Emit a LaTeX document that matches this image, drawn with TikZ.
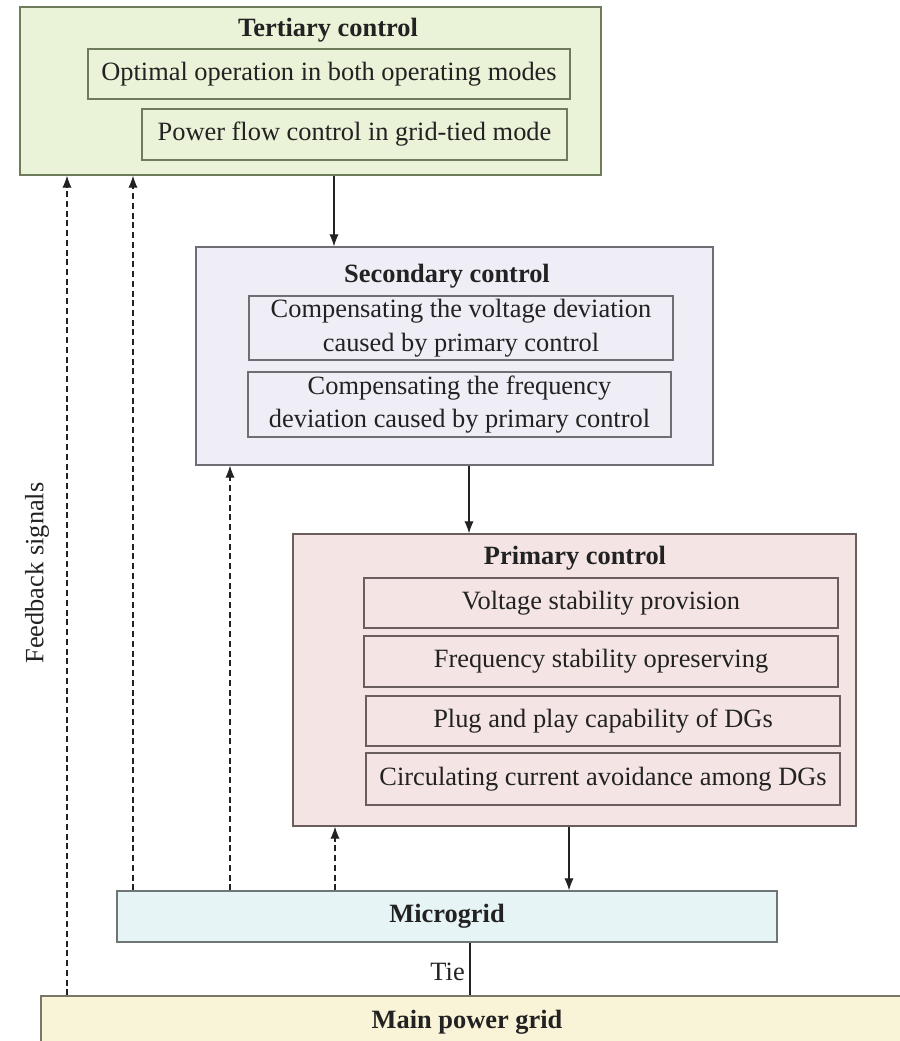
\documentclass[tikz,border=0pt]{standalone}
\usepackage{fontspec}
\setmainfont{Liberation Serif}
\usetikzlibrary{arrows.meta}
\definecolor{tfill}{HTML}{EAF2D7}
\definecolor{tdraw}{HTML}{6F7C5B}
\definecolor{sfill}{HTML}{EFEEF6}
\definecolor{sdraw}{HTML}{6E6E74}
\definecolor{pfill}{HTML}{F4E4E4}
\definecolor{pdraw}{HTML}{6A5D5D}
\definecolor{mfill}{HTML}{E6F4F6}
\definecolor{mdraw}{HTML}{6E7575}
\definecolor{gfill}{HTML}{F9F4D8}
\definecolor{gdraw}{HTML}{7A776A}
\definecolor{ink}{HTML}{222222}
\newcommand{\txtfont}{\fontsize{19.8pt}{25.2pt}\selectfont}
\begin{document}
\begin{tikzpicture}[x=0.75pt,y=-0.75pt,
  sz/.style 2 args={minimum width=#1*0.75pt, minimum height=#2*0.75pt},
  panel/.style 2 args={rectangle, draw=#1, fill=#2, line width=1.1pt, inner sep=0pt},
  item/.style={rectangle, draw=#1, line width=1.1pt, inner sep=0pt, align=center, font=\txtfont, text=ink},
  ttl/.style={font=\txtfont\bfseries, text=ink, inner sep=0pt},
  lbl/.style={font=\txtfont, text=ink, inner sep=0pt},
  arr/.style={-{Latex[length=9pt,width=7pt]}, line width=0.8pt, draw=ink},
  fb/.style={arr, dash pattern=on 4.5pt off 2.8pt}]
\useasboundingbox (0,0) rectangle (899,1041);
\fill[white] (0,0) rectangle (899,1041);

% Tertiary
\node[panel={tdraw}{tfill}, sz={581}{168}] (tert) at (310.5,91) {};
\node[ttl] (tertt) at (328,30) {Tertiary control};
\node[item=tdraw, sz={482}{50}] (t1) at (329,74) {Optimal operation in both operating modes};
\node[item=tdraw, sz={425}{51}] (t2) at (354.5,134.5) {Power flow control in grid-tied mode};

% Secondary
\node[panel={sdraw}{sfill}, sz={517}{218}] (sec) at (454.5,356) {};
\node[ttl] (sect) at (447,276) {Secondary control};
\node[item=sdraw, sz={424}{64}] (s1) at (461,328) {Compensating the voltage deviation\\caused by primary control};
\node[item=sdraw, sz={423}{65}] (s2) at (459.5,404.5) {Compensating the frequency\\deviation caused by primary control};

% Primary
\node[panel={pdraw}{pfill}, sz={563}{292}] (prim) at (574.5,680) {};
\node[ttl] (primt) at (575,558) {Primary control};
\node[item=pdraw, sz={474}{50}] (p1) at (601,603) {Voltage stability provision};
\node[item=pdraw, sz={474}{51}] (p2) at (601,661.5) {Frequency stability opreserving};
\node[item=pdraw, sz={474}{50}] (p3) at (603,721) {Plug and play capability of DGs};
\node[item=pdraw, sz={474}{52}] (p4) at (603,779) {Circulating current avoidance among DGs};

% Microgrid and main grid
\node[panel={mdraw}{mfill}, sz={660}{51}, font=\txtfont\bfseries, text=ink] (micro) at (447,916.5) {Microgrid};
\node[panel={gdraw}{gfill}, sz={870}{80}] (grid) at (476,1036) {};
\node[ttl] (gridt) at (467,1022) {Main power grid};

% x positions
\coordinate (xa) at (334,0);
\coordinate (xb) at (469,0);
\coordinate (xc) at (569,0);
\coordinate (xt) at (470,0);
\coordinate (f0) at (67,0);
\coordinate (f1) at (133,0);
\coordinate (f2) at (230,0);
\coordinate (f3) at (335,0);

% control arrows
\draw[arr] (xa |- tert.south) -- (xa |- sec.north);
\draw[arr] (xb |- sec.south) -- (xb |- prim.north);
\draw[arr] (xc |- prim.south) -- (xc |- micro.north);

% tie
\draw[line width=0.8pt, draw=ink] (xt |- micro.south) -- (xt |- grid.north);
\node[lbl, anchor=east] (tie) at (465,972) {Tie};

% feedback
\draw[fb] (f0 |- grid.north) -- (f0 |- tert.south);
\draw[fb] (f1 |- micro.north) -- (f1 |- tert.south);
\draw[fb] (f2 |- micro.north) -- (f2 |- sec.south);
\draw[fb] (f3 |- micro.north) -- (f3 |- prim.south);
\node[lbl, rotate=90] (fbl) at (37,573) {Feedback signals};
\end{tikzpicture}
\end{document}
